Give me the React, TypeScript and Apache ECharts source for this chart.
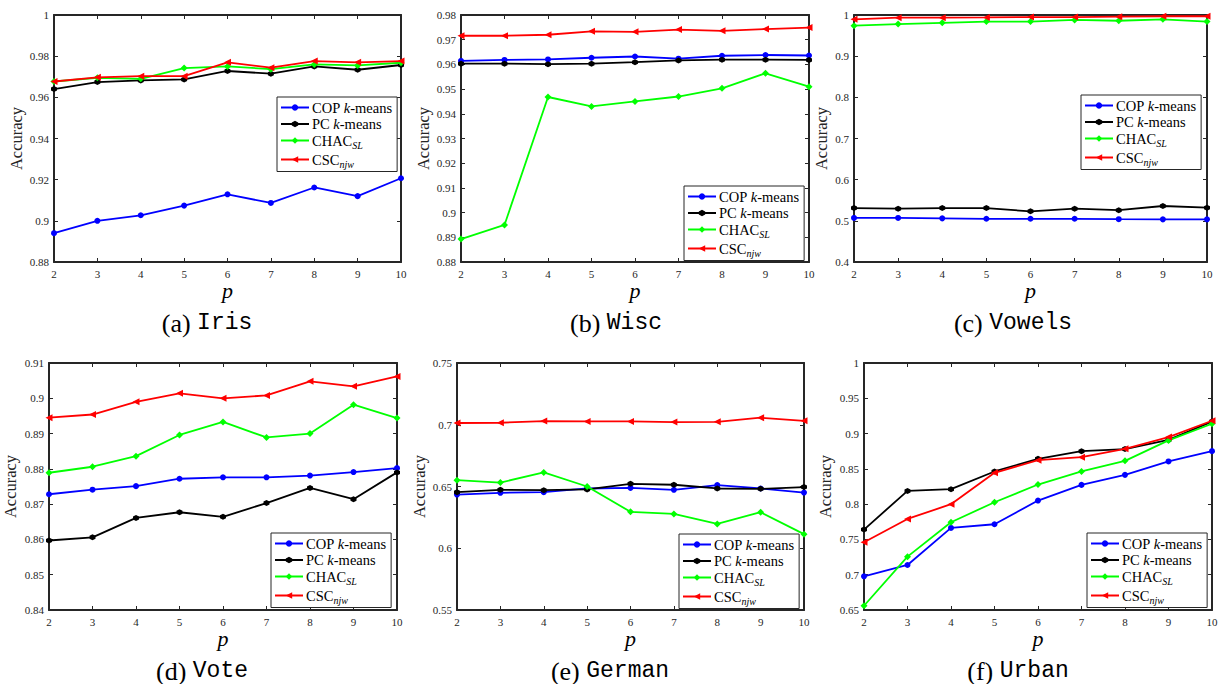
import React, { useEffect, useRef } from "react";
import * as echarts from "echarts";

const P = [2, 3, 4, 5, 6, 7, 8, 9, 10];
const SERIES_NAMES = ["COP k-means", "PC k-means", "CHAC_SL", "CSC_njw"];

const irisCOP = [0.894, 0.9, 0.9027, 0.9074, 0.9129, 0.9087, 0.9162, 0.912, 0.9207];
const irisPC = [0.964, 0.9674, 0.9682, 0.9687, 0.9728, 0.9715, 0.975, 0.9734, 0.9757];
const irisCHAC = [0.9677, 0.9695, 0.969, 0.9742, 0.975, 0.9737, 0.976, 0.9755, 0.9768];
const irisCSC = [0.9677, 0.9697, 0.9703, 0.9703, 0.977, 0.9744, 0.9776, 0.977, 0.9776];

const wiscCOP = [0.9614, 0.9618, 0.962, 0.9627, 0.9632, 0.9623, 0.9635, 0.9638, 0.9636];
const wiscPC = [0.9603, 0.9603, 0.9601, 0.9603, 0.9609, 0.9616, 0.9619, 0.9619, 0.9618];
const wiscCHAC = [0.8893, 0.895, 0.9468, 0.943, 0.945, 0.947, 0.9503, 0.9564, 0.951];
const wiscCSC = [0.9716, 0.9716, 0.972, 0.9734, 0.9732, 0.9741, 0.9736, 0.9743, 0.9749];

const vowelsCOP = [0.507, 0.507, 0.506, 0.505, 0.505, 0.505, 0.504, 0.5036, 0.5036];
const vowelsPC = [0.531, 0.5296, 0.531, 0.531, 0.523, 0.5296, 0.526, 0.536, 0.532];
const vowelsCHAC = [0.974, 0.978, 0.981, 0.984, 0.984, 0.988, 0.986, 0.9895, 0.984];
const vowelsCSC = [0.9895, 0.9935, 0.9935, 0.994, 0.995, 0.995, 0.996, 0.997, 0.997];

const voteCOP = [0.8728, 0.8741, 0.8751, 0.8772, 0.8776, 0.8776, 0.8781, 0.8791, 0.8802];
const votePC = [0.8597, 0.8606, 0.8661, 0.8677, 0.8664, 0.8703, 0.8746, 0.8714, 0.879];
const voteCHAC = [0.8789, 0.8806, 0.8836, 0.8896, 0.8933, 0.8889, 0.89, 0.8982, 0.8944];
const voteCSC = [0.8945, 0.8954, 0.899, 0.9014, 0.9, 0.9008, 0.9048, 0.9034, 0.9062];

const germanCOP = [0.6435, 0.6449, 0.6454, 0.6484, 0.6489, 0.6473, 0.6511, 0.6484, 0.6451];
const germanPC = [0.6454, 0.6473, 0.647, 0.6476, 0.6522, 0.6514, 0.6484, 0.6481, 0.6495];
const germanCHAC = [0.6551, 0.6532, 0.6614, 0.65, 0.6295, 0.6278, 0.6197, 0.6292, 0.6114];
const germanCSC = [0.7014, 0.7016, 0.703, 0.7027, 0.7027, 0.7022, 0.7024, 0.7057, 0.7032];

const urbanCOP = [0.6977, 0.7138, 0.7663, 0.7715, 0.8051, 0.8273, 0.8415, 0.8605, 0.8751];
const urbanPC = [0.764, 0.8188, 0.8212, 0.8463, 0.8642, 0.8751, 0.878, 0.891, 0.917];
const urbanCHAC = [0.656, 0.7256, 0.7744, 0.8027, 0.8278, 0.8463, 0.8614, 0.8903, 0.9139];
const urbanCSC = [0.746, 0.779, 0.7999, 0.8444, 0.8623, 0.8666, 0.8784, 0.895, 0.9182];

const yMins = [0.88, 0.88, 0.4, 0.84, 0.55, 0.65];
const yMaxs = [1, 0.98, 1, 0.91, 0.75, 1];
const yIntervals = [0.02, 0.01, 0.1, 0.01, 0.05, 0.05];
const captionLetters = ["(a)", "(b)", "(c)", "(d)", "(e)", "(f)"];
const datasetNames = ["Iris", "Wisc", "Vowels", "Vote", "German", "Urban"];

const panelData = [
  [irisCOP, irisPC, irisCHAC, irisCSC],
  [wiscCOP, wiscPC, wiscCHAC, wiscCSC],
  [vowelsCOP, vowelsPC, vowelsCHAC, vowelsCSC],
  [voteCOP, votePC, voteCHAC, voteCSC],
  [germanCOP, germanPC, germanCHAC, germanCSC],
  [urbanCOP, urbanPC, urbanCHAC, urbanCSC],
];

// layout (positions in px)
const grids = [
  { left: 54, top: 15, width: 347, height: 247 },
  { left: 461, top: 15, width: 348, height: 247 },
  { left: 854, top: 15, width: 353, height: 247 },
  { left: 49, top: 363, width: 348, height: 247 },
  { left: 457, top: 363, width: 347, height: 247 },
  { left: 864, top: 363, width: 348, height: 247 },
];
const legendPos = [
  { left: 277, top: 97 },
  { left: 684, top: 186 },
  { left: 1081, top: 95 },
  { left: 271, top: 533 },
  { left: 679, top: 534 },
  { left: 1087, top: 533 },
];
const captionPos = [
  { x: 207, y: 323 },
  { x: 616, y: 323 },
  { x: 1013, y: 323 },
  { x: 202, y: 671 },
  { x: 610, y: 671 },
  { x: 1018, y: 671 },
];
const yNameGaps = [29, 29, 24, 30, 29, 30];

const COLORS = ["#0000ff", "#000000", "#00ff00", "#ff0000"];
const SYMBOLS = [
  "circle",
  "path://M0,-1L0.866,-0.5L0.866,0.5L0,1L-0.866,0.5L-0.866,-0.5Z",
  "diamond",
  "path://M-1,0L1,-0.9L1,0.9Z",
];
const SYMBOL_SIZES = [6, 6, 7, 7];

const AX = "#262626";
const SERIF = "Liberation Serif";
const MONO = "Liberation Mono";

function fmt(v: number) {
  return String(parseFloat(v.toFixed(4)));
}

function buildOption() {
  const xAxis: any[] = [];
  const yAxis: any[] = [];
  const series: any[] = [];
  const legend: any[] = [];
  const graphic: any[] = [];

  grids.forEach((g, i) => {
    const common = {
      gridIndex: i,
      type: "value",
      axisLine: { show: true, onZero: false, lineStyle: { color: AX, width: 2 } },
      axisTick: { show: true, inside: true, length: 4, lineStyle: { color: AX, width: 1 } },
      splitLine: { show: false },
    };
    xAxis.push({
      ...common,
      position: "bottom",
      min: 2,
      max: 10,
      interval: 1,
      axisLabel: { color: AX, fontFamily: SERIF, fontSize: 11, margin: 6, formatter: fmt },
      name: "p",
      nameLocation: "middle",
      nameGap: 14,
      nameTextStyle: { fontFamily: SERIF, fontStyle: "italic", fontSize: 22, color: "#000" },
    });
    xAxis.push({
      ...common,
      position: "top",
      min: 2,
      max: 10,
      interval: 1,
      axisLabel: { show: false },
    });
    yAxis.push({
      ...common,
      position: "left",
      min: yMins[i],
      max: yMaxs[i],
      interval: yIntervals[i],
      axisLabel: { color: AX, fontFamily: SERIF, fontSize: 11, margin: 5, formatter: fmt },
      name: "Accuracy",
      nameLocation: "middle",
      nameRotate: 90,
      nameGap: yNameGaps[i],
      nameTextStyle: { fontFamily: SERIF, fontSize: 16.5, color: AX },
    });
    yAxis.push({
      ...common,
      position: "right",
      min: yMins[i],
      max: yMaxs[i],
      interval: yIntervals[i],
      axisLabel: { show: false },
    });

    panelData[i].forEach((vals, s) => {
      series.push({
        type: "line",
        name: SERIES_NAMES[s],
        xAxisIndex: i * 2,
        yAxisIndex: i * 2,
        data: P.map((p, k) => [p, vals[k]]),
        symbol: SYMBOLS[s],
        symbolSize: SYMBOL_SIZES[s],
        showAllSymbol: true,
        clip: false,
        lineStyle: { color: COLORS[s], width: 1.8 },
        itemStyle: { color: COLORS[s], borderWidth: 0 },
        z: 2 + s,
      });
    });

    legend.push({
      orient: "vertical",
      left: legendPos[i].left,
      top: legendPos[i].top,
      data: SERIES_NAMES,
      itemWidth: 28,
      itemHeight: 8,
      itemGap: 1.5,
      padding: [3, 5, 2, 3],
      borderColor: AX,
      borderWidth: 1,
      backgroundColor: "#fff",
      selectedMode: false,
      formatter: (name: string) => {
        if (name === "COP k-means") return "COP {k|k}-means";
        if (name === "PC k-means") return "PC {k|k}-means";
        if (name === "CHAC_SL") return "CHAC{sub|SL}";
        return "CSC{sub|njw}";
      },
      textStyle: {
        fontFamily: SERIF,
        fontSize: 14.5,
        lineHeight: 14,
        color: "#000",
        padding: [0, 0, 0, -2],
        rich: {
          k: { fontFamily: SERIF, fontSize: 14.5, fontStyle: "italic", color: "#000", lineHeight: 14 },
          sub: {
            fontFamily: SERIF,
            fontSize: 10,
            fontStyle: "italic",
            color: "#000",
            verticalAlign: "bottom",
            lineHeight: 10,
            padding: [0, 0, -3, 0],
          },
        },
      },
    });

    graphic.push({
      type: "text",
      x: captionPos[i].x,
      y: captionPos[i].y,
      style: {
        text: `{a|${captionLetters[i]} }{b|${datasetNames[i]}}`,
        align: "center",
        verticalAlign: "middle",
        fill: "#000",
        rich: {
          a: { fontFamily: SERIF, fontSize: 26, fill: "#000" },
          b: { fontFamily: MONO, fontSize: 23, fill: "#000" },
        },
      },
    });
  });

  return {
    animation: false,
    backgroundColor: "#ffffff",
    grid: grids.map((g) => ({ ...g, containLabel: false })),
    xAxis,
    yAxis,
    series,
    legend,
    graphic,
  };
}

export default function App() {
  const ref = useRef<HTMLDivElement>(null);
  useEffect(() => {
    if (!ref.current) return;
    const chart = echarts.init(ref.current, undefined, { renderer: "svg" });
    chart.setOption(buildOption() as any);
    return () => chart.dispose();
  }, []);
  return (
    <div
      ref={ref}
      style={{ position: "fixed", left: 0, top: 0, width: 1221, height: 684, background: "#fff" }}
    />
  );
}
